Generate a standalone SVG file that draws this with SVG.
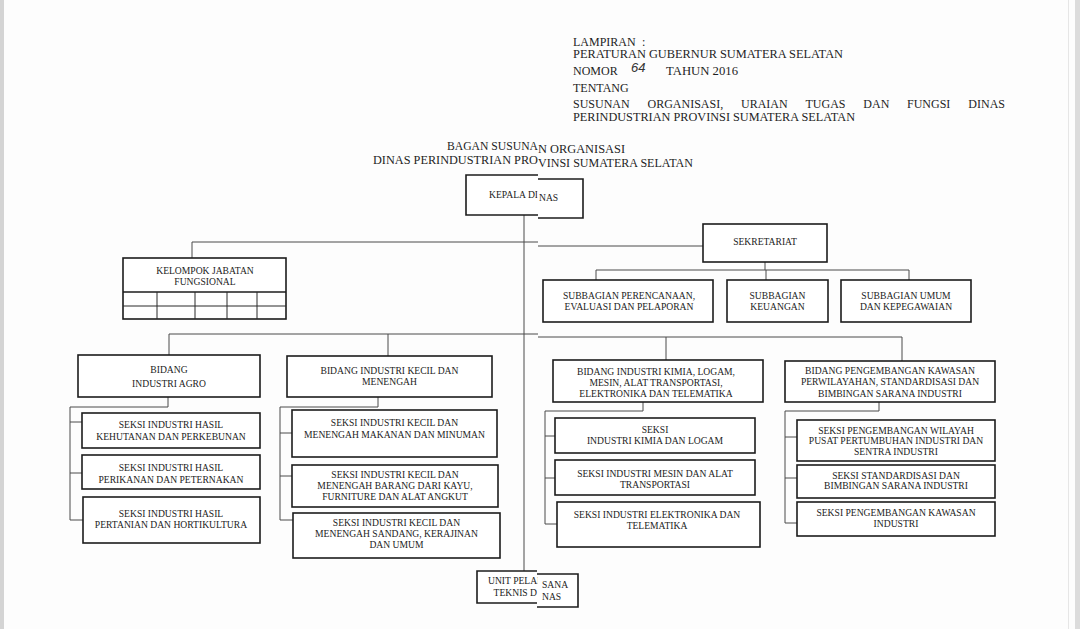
<svg xmlns="http://www.w3.org/2000/svg" width="1080" height="629" viewBox="0 0 1080 629">
<style>
.box{fill:#fff;stroke:#1c1c1c;stroke-width:1.6}
.ln{fill:none;stroke:#4a4a4a;stroke-width:1}
.t{font-family:"Liberation Serif","Times New Roman",serif;font-size:9.6px;fill:#222;text-anchor:middle}
.h{font-family:"Liberation Serif","Times New Roman",serif;font-size:12px;fill:#1e1e1e}
.ti{font-family:"Liberation Serif","Times New Roman",serif;font-size:11.5px;fill:#1e1e1e}
</style>
<defs>
<clipPath id="cl"><rect x="0" y="0" width="537.5" height="629"/></clipPath>
</defs>
<rect width="1080" height="629" fill="#fdfdfd"/>
<rect x="0" y="0" width="4" height="629" fill="#d4d4d4"/>
<rect x="1068" y="0" width="1" height="629" fill="#e6e6e6"/>
<rect x="1075" y="0" width="5" height="629" fill="#dcdcdc"/>

<g id="header">
<text class="h" x="573" y="46">LAMPIRAN<tspan x="642">:</tspan></text>
<text class="h" x="573" y="58" textLength="270" lengthAdjust="spacingAndGlyphs">PERATURAN GUBERNUR SUMATERA SELATAN</text>
<text class="h" x="573" y="75">NOMOR</text>
<text x="631" y="72" style="font-family:'Liberation Sans',sans-serif;font-size:13px;fill:#333;font-style:italic">64</text>
<text class="h" x="666" y="75" textLength="72" lengthAdjust="spacingAndGlyphs">TAHUN 2016</text>
<text class="h" x="573" y="92">TENTANG</text>
<text class="h" y="108"><tspan x="573">SUSUNAN</tspan><tspan x="647.5">ORGANISASI,</tspan><tspan x="741">URAIAN</tspan><tspan x="805.5">TUGAS</tspan><tspan x="863.3">DAN</tspan><tspan x="907">FUNGSI</tspan><tspan x="968.3">DINAS</tspan></text>
<text class="h" x="573" y="121" textLength="282" lengthAdjust="spacingAndGlyphs">PERINDUSTRIAN PROVINSI SUMATERA SELATAN</text>
</g>

<g id="title">
<text class="ti" x="538" y="150" text-anchor="end" textLength="91" lengthAdjust="spacingAndGlyphs">BAGAN SUSUNA</text>
<text class="ti" x="538" y="152.7" textLength="87" lengthAdjust="spacingAndGlyphs">N ORGANISASI</text>
<text class="ti" x="538" y="164.3" text-anchor="end" textLength="165" lengthAdjust="spacingAndGlyphs">DINAS PERINDUSTRIAN PRO</text>
<text class="ti" x="538" y="167.3" textLength="155" lengthAdjust="spacingAndGlyphs">VINSI SUMATERA SELATAN</text>
</g>

<g id="connectors">
<path class="ln" d="M524,215 V571"/>
<path class="ln" d="M192,258 V242 H538"/>
<path class="ln" d="M538,246 H703"/>
<path class="ln" d="M765,262 V270 M596,280 V270 H909 V280 M766,270 V280"/>
<path class="ln" d="M169,355 V334 H538"/>
<path class="ln" d="M388,334 V356"/>
<path class="ln" d="M538,337 H902 V361 M666,337 V360"/>
<path class="ln" d="M168,397 V407 H70 V520 H83 M70,422 H82 M70,473 H82"/>
<path class="ln" d="M378,397 V407 H280 V520 H293 M280,433 H292 M280,476 H292"/>
<path class="ln" d="M643,402 V411 H545 V524 H557 M545,436 H555 M545,478 H555"/>
<path class="ln" d="M879,402 V411 H785 V523 H797 M785,437 H797 M785,478 H797"/>
</g>

<g id="kepala-dinas">
<rect x="466" y="175" width="72" height="40" fill="#fff"/>
<rect x="538" y="179" width="45" height="39" fill="#fff"/>
<path class="box" style="fill:none" d="M538,175 H466 V215 H538"/>
<path class="box" style="fill:none" d="M538,179 H583 V218 H538"/>
<text class="t" x="538" y="198.3" clip-path="url(#cl)" style="text-anchor:end">KEPALA DI</text>
<text class="t" x="539" y="200.7" style="text-anchor:start">NAS</text>
</g>

<g id="sekretariat">
<rect class="box" x="703" y="224" width="124" height="38"/>
<text class="t" x="765" y="245">SEKRETARIAT</text>
</g>

<g id="kelompok-jabatan-fungsional">
<rect class="box" x="123" y="258" width="163" height="61"/>
<line x1="123" y1="292" x2="286" y2="292" stroke="#1c1c1c" stroke-width="1.6"/>
<path fill="none" stroke="#2a2a2a" stroke-width="1" d="M123,306 H286 M157,292 V319 M195,292 V319 M227,292 V319 M257,292 V319"/>
<text class="t" x="205" y="274">KELOMPOK JABATAN</text>
<text class="t" x="205" y="285">FUNGSIONAL</text>
</g>

<g id="subbagian-perencanaan">
<rect class="box" x="543" y="280" width="170" height="42"/>
<text class="t" x="629" y="299">SUBBAGIAN PERENCANAAN,</text>
<text class="t" x="629" y="310">EVALUASI DAN PELAPORAN</text>
</g>
<g id="subbagian-keuangan">
<rect class="box" x="727" y="280" width="101" height="42"/>
<text class="t" x="777.5" y="299">SUBBAGIAN</text>
<text class="t" x="777.5" y="310">KEUANGAN</text>
</g>
<g id="subbagian-umum">
<rect class="box" x="841" y="280" width="130" height="42"/>
<text class="t" x="906" y="299">SUBBAGIAN UMUM</text>
<text class="t" x="906" y="310">DAN KEPEGAWAIAN</text>
</g>

<g id="bidang-industri-agro">
<rect class="box" x="78" y="355" width="182" height="42"/>
<text class="t" x="169" y="373">BIDANG</text>
<text class="t" x="169" y="387">INDUSTRI AGRO</text>
</g>
<g id="seksi-kehutanan">
<rect class="box" x="82" y="413" width="178" height="35"/>
<text class="t" x="171" y="428">SEKSI INDUSTRI HASIL</text>
<text class="t" x="171" y="440">KEHUTANAN DAN PERKEBUNAN</text>
</g>
<g id="seksi-perikanan">
<rect class="box" x="82" y="455" width="178" height="34"/>
<text class="t" x="171" y="471">SEKSI INDUSTRI HASIL</text>
<text class="t" x="171" y="483">PERIKANAN DAN PETERNAKAN</text>
</g>
<g id="seksi-pertanian">
<rect class="box" x="83" y="497" width="177" height="46"/>
<text class="t" x="171" y="517">SEKSI INDUSTRI HASIL</text>
<text class="t" x="171" y="528">PERTANIAN DAN HORTIKULTURA</text>
</g>

<g id="bidang-ikm">
<rect class="box" x="287" y="356" width="205" height="41"/>
<text class="t" x="389.5" y="374">BIDANG INDUSTRI KECIL DAN</text>
<text class="t" x="389.5" y="385">MENENGAH</text>
</g>
<g id="seksi-ikm-makanan">
<rect class="box" x="292" y="410" width="205" height="47"/>
<text class="t" x="394.5" y="426">SEKSI INDUSTRI KECIL DAN</text>
<text class="t" x="394.5" y="438">MENENGAH MAKANAN DAN MINUMAN</text>
</g>
<g id="seksi-ikm-kayu">
<rect class="box" x="292" y="465" width="206" height="42"/>
<text class="t" x="395" y="478">SEKSI INDUSTRI KECIL DAN</text>
<text class="t" x="395" y="489">MENENGAH BARANG DARI KAYU,</text>
<text class="t" x="395" y="500">FURNITURE DAN ALAT ANGKUT</text>
</g>
<g id="seksi-ikm-sandang">
<rect class="box" x="293" y="513" width="207" height="45"/>
<text class="t" x="396.5" y="526">SEKSI INDUSTRI KECIL DAN</text>
<text class="t" x="396.5" y="537">MENENGAH SANDANG, KERAJINAN</text>
<text class="t" x="396.5" y="548">DAN UMUM</text>
</g>

<g id="bidang-kimia">
<rect class="box" x="553" y="360" width="210" height="42"/>
<text class="t" x="656" y="375">BIDANG INDUSTRI KIMIA, LOGAM,</text>
<text class="t" x="656" y="386">MESIN, ALAT TRANSPORTASI,</text>
<text class="t" x="656" y="397">ELEKTRONIKA DAN TELEMATIKA</text>
</g>
<g id="seksi-kimia-logam">
<rect class="box" x="555" y="418" width="200" height="35"/>
<text class="t" x="655" y="433">SEKSI</text>
<text class="t" x="655" y="444">INDUSTRI KIMIA DAN LOGAM</text>
</g>
<g id="seksi-mesin">
<rect class="box" x="555" y="460" width="200" height="35"/>
<text class="t" x="655" y="477">SEKSI INDUSTRI MESIN DAN ALAT</text>
<text class="t" x="655" y="488">TRANSPORTASI</text>
</g>
<g id="seksi-elektronika">
<rect class="box" x="557" y="502" width="203" height="45"/>
<text class="t" x="657" y="518">SEKSI INDUSTRI ELEKTRONIKA DAN</text>
<text class="t" x="657" y="529">TELEMATIKA</text>
</g>

<g id="bidang-pengembangan">
<rect class="box" x="785" y="361" width="210" height="41"/>
<text class="t" x="890" y="374">BIDANG PENGEMBANGAN KAWASAN</text>
<text class="t" x="890" y="385">PERWILAYAHAN, STANDARDISASI DAN</text>
<text class="t" x="890" y="397">BIMBINGAN SARANA INDUSTRI</text>
</g>
<g id="seksi-wilayah">
<rect class="box" x="797" y="420" width="198" height="41"/>
<text class="t" x="896" y="434">SEKSI PENGEMBANGAN WILAYAH</text>
<text class="t" x="896" y="444">PUSAT PERTUMBUHAN INDUSTRI DAN</text>
<text class="t" x="896" y="455">SENTRA INDUSTRI</text>
</g>
<g id="seksi-standardisasi">
<rect class="box" x="797" y="465" width="198" height="33"/>
<text class="t" x="896" y="479">SEKSI STANDARDISASI DAN</text>
<text class="t" x="896" y="489">BIMBINGAN SARANA INDUSTRI</text>
</g>
<g id="seksi-kawasan">
<rect class="box" x="797" y="502" width="198" height="34"/>
<text class="t" x="896" y="516">SEKSI PENGEMBANGAN KAWASAN</text>
<text class="t" x="896" y="527">INDUSTRI</text>
</g>

<g id="unit-pelaksana-teknis">
<rect x="477" y="571" width="60" height="32" fill="#fff"/>
<rect x="537" y="574" width="41" height="33" fill="#fff"/>
<path class="box" style="fill:none" d="M537,571 H477 V603 H537"/>
<path class="box" style="fill:none" d="M537,574 H578 V607 H537"/>
<text class="t" x="488" y="584" clip-path="url(#cl)" style="text-anchor:start">UNIT PELAK</text>
<text class="t" x="542" y="588" style="text-anchor:start">SANA</text>
<text class="t" x="537" y="596" style="text-anchor:end">TEKNIS D</text>
<text class="t" x="542" y="600" style="text-anchor:start">NAS</text>
</g>
</svg>
